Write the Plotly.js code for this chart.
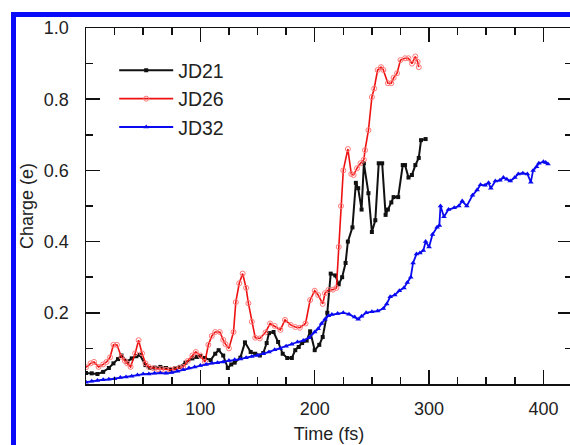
<!DOCTYPE html>
<html>
<head>
<meta charset="utf-8">
<script src="https://cdn.plot.ly/plotly-3.0.1.min.js"></script>
<style>
  html, body { margin: 0; padding: 0; overflow: hidden; background: #fff; }
  #chart { width: 580px; height: 445px; }
  #frame { position: absolute; left: 11px; top: 12px; right: 0; bottom: 0;
           border-left: 5px solid rgb(10,10,250); border-top: 5px solid rgb(10,10,250);
           pointer-events: none; }
</style>
</head>
<body>
<div id="chart"></div>
<div id="frame"></div>
<script>
// JD21 (black)
const jd21_t = [0,5,10,15,20,24,28,31,36,40,44,47,52,56,60,65,70,74,78,82,87,93,97,100,104,109,113,116,120,124,127,130,135,139,144,148,152,155,158,160,164,168,172,176,180,183,186,189,193,196,200,204,207,211,214,218,221,224,227,229,233,236,238,241,243,247,250,253,256,259,262,264,267,269,273,277,279,282,285,288,291,293,297];
const jd21_v = [0.031,0.030,0.028,0.034,0.045,0.058,0.070,0.080,0.063,0.072,0.078,0.082,0.053,0.045,0.046,0.048,0.045,0.041,0.044,0.048,0.060,0.072,0.076,0.078,0.073,0.067,0.085,0.095,0.080,0.045,0.055,0.060,0.074,0.117,0.090,0.085,0.080,0.087,0.115,0.143,0.146,0.118,0.085,0.073,0.073,0.095,0.104,0.115,0.122,0.148,0.095,0.110,0.132,0.200,0.310,0.305,0.280,0.300,0.340,0.400,0.440,0.565,0.550,0.490,0.620,0.536,0.427,0.460,0.620,0.620,0.475,0.490,0.510,0.525,0.525,0.615,0.615,0.580,0.587,0.615,0.635,0.685,0.688];

// JD26 (red)
const jd26_t = [0,4,7,11,15,18,21,24,27,31,34,36,39,43,46,49,52,55,59,63,66,70,74,78,82,85,89,93,96,100,104,107,110,113,117,120,122,125,129,131,134,137,140,142,145,148,152,157,161,165,170,174,179,183,187,192,196,200,203,207,209,212,216,219,221,223,225,229,232,234,237,240,243,244,247,250,252,255,258,260,264,267,269,272,275,279,282,285,288,290,291];
const jd26_v = [0.047,0.058,0.062,0.048,0.055,0.062,0.075,0.110,0.110,0.076,0.065,0.058,0.048,0.086,0.123,0.086,0.058,0.048,0.044,0.042,0.042,0.040,0.040,0.042,0.045,0.048,0.065,0.080,0.090,0.080,0.062,0.110,0.135,0.146,0.146,0.124,0.112,0.100,0.146,0.230,0.283,0.310,0.270,0.227,0.175,0.130,0.128,0.145,0.170,0.163,0.152,0.180,0.166,0.160,0.158,0.170,0.236,0.262,0.250,0.225,0.255,0.264,0.265,0.270,0.385,0.500,0.600,0.660,0.590,0.587,0.606,0.620,0.630,0.657,0.713,0.806,0.830,0.882,0.890,0.882,0.845,0.845,0.860,0.873,0.910,0.915,0.915,0.900,0.920,0.905,0.890];

// JD32 (blue)
const jd32_t = [0,5,10,15,20,25,30,35,40,45,50,55,60,65,70,75,80,85,90,95,100,105,110,115,120,125,130,135,140,145,150,155,160,165,170,175,180,185,190,195,200,203,206,209,212,215,220,225,230,235,238,241,245,250,255,260,263,266,270,274,278,281,284,286,289,292,295,297,300,303,307,309,310,313,317,322,326,329,333,338,342,345,349,352,354,358,362,365,368,371,375,378,382,386,389,391,394,396,400,402,404];
const jd32_v = [0.005,0.008,0.010,0.012,0.013,0.015,0.018,0.020,0.022,0.025,0.028,0.028,0.030,0.031,0.030,0.032,0.036,0.040,0.045,0.048,0.052,0.055,0.058,0.060,0.062,0.066,0.068,0.070,0.074,0.077,0.080,0.085,0.090,0.096,0.100,0.106,0.112,0.118,0.122,0.130,0.146,0.155,0.170,0.182,0.192,0.195,0.198,0.200,0.196,0.188,0.182,0.190,0.200,0.203,0.205,0.212,0.225,0.245,0.250,0.262,0.270,0.285,0.300,0.340,0.365,0.368,0.375,0.400,0.385,0.420,0.440,0.445,0.500,0.470,0.490,0.495,0.500,0.514,0.500,0.530,0.545,0.560,0.558,0.565,0.550,0.570,0.572,0.580,0.575,0.570,0.580,0.590,0.592,0.590,0.567,0.600,0.610,0.620,0.624,0.622,0.618];

const xTickVals = [100, 200, 300, 400];
const xTickText = ['100', '200', '300', '400'];
const yTickVals = [0.2, 0.4, 0.6, 0.8, 1.0];
const yTickText = ['0.2', '0.4', '0.6', '0.8', '1.0'];

const FONT = '"Liberation Sans", Arial, sans-serif';
const TXT = '#222';

const traces = [
  { x: jd21_t, y: jd21_v, name: 'JD21', type: 'scatter', mode: 'lines+markers',
    line: { color: '#111', width: 2 },
    marker: { symbol: 'square', size: 4, color: '#111' } },
  { x: jd26_t, y: jd26_v, name: 'JD26', type: 'scatter', mode: 'lines+markers',
    line: { color: '#ee1111', width: 1.6 },
    marker: { symbol: 'circle-open', size: 5, color: '#ff7777', line: { width: 1, color: '#ff7777' } } },
  { x: jd32_t, y: jd32_v, name: 'JD32', type: 'scatter', mode: 'lines+markers',
    line: { color: '#0a0af0', width: 1.8 },
    marker: { symbol: 'triangle-up', size: 5, color: '#0a0af0' } }
];

const axisCommon = {
  showline: true, linecolor: '#111', linewidth: 1.5, mirror: 'ticks',
  ticks: 'inside', ticklen: 14, tickwidth: 1.5, tickcolor: '#111',
  showgrid: false, zeroline: false,
  tickfont: { family: FONT, size: 18, color: TXT }
};

const layout = {
  width: 580, height: 445,
  margin: { l: 86, r: 8, t: 28, b: 61 },
  paper_bgcolor: '#fff', plot_bgcolor: '#fff',
  showlegend: true,
  legend: { x: 0.058, y: 0.935, xanchor: 'left', yanchor: 'top',
            bgcolor: 'rgba(0,0,0,0)', itemwidth: 54,
            font: { family: FONT, size: 19.5, color: TXT } },
  xaxis: Object.assign({}, axisCommon, {
    range: [0, 425], tickmode: 'array', tickvals: xTickVals, ticktext: xTickText,
    ticklabelstandoff: 8,
    minor: { ticks: 'inside', ticklen: 7, tickwidth: 1.5, tickcolor: '#111', dtick: 25, tick0: 0, showgrid: false },
    title: { text: 'Time (fs)', font: { family: FONT, size: 18, color: TXT }, standoff: 9 }
  }),
  yaxis: Object.assign({}, axisCommon, {
    range: [0, 1.0], tickmode: 'array', tickvals: yTickVals, ticktext: yTickText,
    ticklabelstandoff: 12,
    minor: { ticks: 'inside', ticklen: 7, tickwidth: 1.5, tickcolor: '#111', dtick: 0.1, tick0: 0, showgrid: false },
    title: { text: 'Charge (e)', font: { family: FONT, size: 18, color: TXT }, standoff: 5 }
  })
};

Plotly.newPlot('chart', traces, layout, { displayModeBar: false, staticPlot: true });
</script>
</body>
</html>
